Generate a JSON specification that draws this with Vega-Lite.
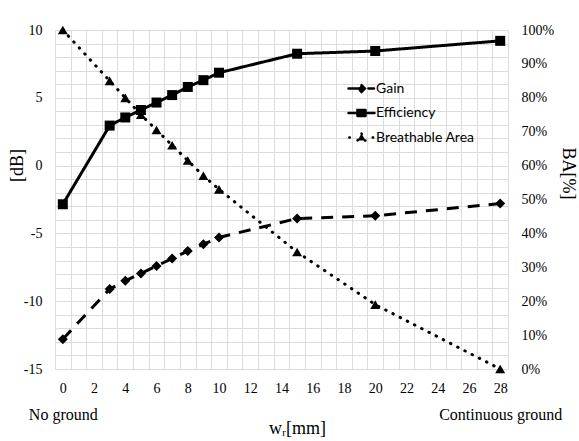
{
  "$schema": "https://vega.github.io/schema/vega-lite/v6.json",
  "width": 453,
  "height": 339,
  "autosize": {"type": "none"},
  "padding": {"left": 55, "top": 30, "right": 71, "bottom": 72},
  "background": "white",
  "config": {"view": {"stroke": null}},
  "data": {"values": [
    {"w": 0, "series": "Gain", "v": -12.8},
    {"w": 3, "series": "Gain", "v": -9.1},
    {"w": 4, "series": "Gain", "v": -8.5},
    {"w": 5, "series": "Gain", "v": -7.95},
    {"w": 6, "series": "Gain", "v": -7.4},
    {"w": 7, "series": "Gain", "v": -6.85},
    {"w": 8, "series": "Gain", "v": -6.3},
    {"w": 9, "series": "Gain", "v": -5.8},
    {"w": 10, "series": "Gain", "v": -5.3},
    {"w": 15, "series": "Gain", "v": -3.9},
    {"w": 20, "series": "Gain", "v": -3.7},
    {"w": 28, "series": "Gain", "v": -2.8},
    {"w": 0, "series": "Efficiency", "v": -2.85},
    {"w": 3, "series": "Efficiency", "v": 2.95},
    {"w": 4, "series": "Efficiency", "v": 3.55},
    {"w": 5, "series": "Efficiency", "v": 4.1},
    {"w": 6, "series": "Efficiency", "v": 4.65},
    {"w": 7, "series": "Efficiency", "v": 5.2},
    {"w": 8, "series": "Efficiency", "v": 5.8},
    {"w": 9, "series": "Efficiency", "v": 6.3},
    {"w": 10, "series": "Efficiency", "v": 6.85},
    {"w": 15, "series": "Efficiency", "v": 8.25},
    {"w": 20, "series": "Efficiency", "v": 8.45},
    {"w": 28, "series": "Efficiency", "v": 9.2},
    {"w": 0, "series": "Breathable Area", "v": 100},
    {"w": 3, "series": "Breathable Area", "v": 85},
    {"w": 4, "series": "Breathable Area", "v": 80},
    {"w": 5, "series": "Breathable Area", "v": 75},
    {"w": 6, "series": "Breathable Area", "v": 70.5},
    {"w": 7, "series": "Breathable Area", "v": 66},
    {"w": 8, "series": "Breathable Area", "v": 61.5},
    {"w": 9, "series": "Breathable Area", "v": 57},
    {"w": 10, "series": "Breathable Area", "v": 53},
    {"w": 15, "series": "Breathable Area", "v": 34.5},
    {"w": 20, "series": "Breathable Area", "v": 19},
    {"w": 28, "series": "Breathable Area", "v": 0}
  ]},
  "layer": [
    {
      "transform": [{"filter": "datum.series !== 'Breathable Area'"}],
      "encoding": {
        "x": {
          "field": "w", "type": "quantitative",
          "scale": {"domain": [-0.5, 28.5], "nice": false, "zero": false},
          "axis": {
            "values": [-0.5, 0.5, 1.5, 2.5, 3.5, 4.5, 5.5, 6.5, 7.5, 8.5, 9.5, 10.5, 11.5, 12.5, 13.5, 14.5, 15.5, 16.5, 17.5, 18.5, 19.5, 20.5, 21.5, 22.5, 23.5, 24.5, 25.5, 26.5, 27.5, 28.5],
            "labelExpr": "(datum.value + 0.5) % 2 === 0 ? '' + (datum.value + 0.5) : ''",
            "labelOffset": 7.81,
            "labelFlush": false,
            "labelOverlap": false,
            "labelBound": false,
            "ticks": false,
            "domain": false,
            "grid": true,
            "gridColor": "#dcdcdc",
            "gridWidth": 1,
            "labelFont": "Liberation Serif",
            "labelFontSize": 14,
            "labelColor": "black",
            "labelPadding": 12,
            "title": null
          }
        },
        "y": {
          "field": "v", "type": "quantitative",
          "scale": {"domain": [-15, 10], "nice": false, "zero": false},
          "axis": {
            "orient": "left",
            "values": [-15, -14, -13, -12, -11, -10, -9, -8, -7, -6, -5, -4, -3, -2, -1, 0, 1, 2, 3, 4, 5, 6, 7, 8, 9, 10],
            "labelExpr": "datum.value % 5 === 0 ? '' + datum.value : ''",
            "labelOverlap": false,
            "labelFlush": false,
            "labelBound": false,
            "grid": true,
            "gridColor": "#dcdcdc",
            "gridWidth": 1,
            "ticks": false,
            "domain": false,
            "labelFont": "Liberation Serif",
            "labelFontSize": 14,
            "labelColor": "black",
            "labelPadding": 13,
            "title": "[dB]",
            "titleFont": "Liberation Serif",
            "titleFontSize": 18,
            "titleFontWeight": "normal",
            "titleColor": "black",
            "titleAngle": 270,
            "titleAlign": "center",
            "titleBaseline": "middle",
            "titleX": -38,
            "titleY": 135
          }
        }
      },
      "layer": [
        {
          "mark": {"type": "line", "color": "black", "strokeWidth": 3, "strokeCap": "butt"},
          "encoding": {
            "strokeDash": {
              "field": "series", "type": "nominal",
              "scale": {"domain": ["Gain", "Efficiency", "Breathable Area"], "range": [[12, 9], [1, 0], [0.5, 7.6]]},
              "legend": {
                "orient": "none", "legendX": 295, "legendY": 47,
                "title": null, "padding": 0, "rowPadding": 4.5,
                "labelOffset": 3, "symbolSize": 400,
                "labelFont": "Lato", "labelFontSize": 14, "labelColor": "black",
                "encoding": {"symbols": {
                  "shape": {"value": {"expr": "datum.value === 'Gain' ? 'M-1.3,0H-0.25M0.7,0H1.25M0,-0.34L0.34,0L0,0.34L-0.34,0Z' : datum.value === 'Efficiency' ? 'M-1.3,0H1.3M-0.4,-0.3H0.4V0.3H-0.4Z' : 'M-1.22,0H-1.12M1.12,0H1.22M0,-0.4L0.4,0.3L-0.4,0.3Z'"}},
                  "fill": {"value": "black"},
                  "stroke": {"value": "black"},
                  "strokeWidth": {"value": 2.5},
                  "strokeDash": {"value": [1, 0]},
                  "strokeCap": {"value": "round"},
                  "opacity": {"value": 1},
                  "fillOpacity": {"value": 1}
                }}
              }
            }
          }
        },
        {
          "transform": [{"filter": "datum.series === 'Gain'"}],
          "mark": {"type": "point", "shape": "diamond", "filled": true, "color": "black", "opacity": 1, "size": 100}
        },
        {
          "transform": [{"filter": "datum.series === 'Efficiency'"}],
          "mark": {"type": "point", "shape": "square", "filled": true, "color": "black", "opacity": 1, "size": 100}
        }
      ]
    },
    {
      "transform": [{"filter": "datum.series === 'Breathable Area'"}],
      "encoding": {
        "x": {
          "field": "w", "type": "quantitative",
          "scale": {"domain": [-0.5, 28.5], "nice": false, "zero": false},
          "axis": {
            "orient": "bottom",
            "values": [-0.5, 27.5],
            "labelExpr": "datum.value === -0.5 ? 'No ground' : 'Continuous ground'",
            "labelOffset": 7.81,
            "labelFlush": false,
            "labelOverlap": false,
            "labelBound": false,
            "ticks": false,
            "domain": false,
            "grid": false,
            "labelFont": "Liberation Serif",
            "labelFontSize": 16,
            "labelColor": "black",
            "labelPadding": 37,
            "title": "wᵣ[mm]",
            "titleFont": "Liberation Serif",
            "titleFontSize": 18,
            "titleFontWeight": "normal",
            "titleColor": "black",
            "titleAlign": "center",
            "titleBaseline": "middle",
            "titleX": 242,
            "titleY": 59
          }
        },
        "y": {
          "field": "v", "type": "quantitative",
          "scale": {"domain": [0, 100], "nice": false, "zero": false},
          "axis": {
            "orient": "right",
            "values": [0, 10, 20, 30, 40, 50, 60, 70, 80, 90, 100],
            "labelExpr": "datum.value + '%'",
            "labelOverlap": false,
            "labelFlush": false,
            "labelBound": false,
            "grid": false,
            "ticks": false,
            "domain": false,
            "labelFont": "Liberation Serif",
            "labelFontSize": 14,
            "labelColor": "black",
            "labelPadding": 13,
            "title": "BA[%]",
            "titleFont": "Liberation Serif",
            "titleFontSize": 18,
            "titleFontWeight": "normal",
            "titleColor": "black",
            "titleAngle": 90,
            "titleAlign": "center",
            "titleBaseline": "middle",
            "titleX": 59,
            "titleY": 143
          }
        }
      },
      "layer": [
        {
          "mark": {"type": "line", "color": "black", "strokeWidth": 3, "strokeCap": "round"},
          "encoding": {
            "strokeDash": {
              "field": "series", "type": "nominal",
              "scale": {"domain": ["Gain", "Efficiency", "Breathable Area"], "range": [[12, 9], [1, 0], [0.5, 7.6]]},
              "legend": {
                "orient": "none", "legendX": 295, "legendY": 47,
                "title": null, "padding": 0, "rowPadding": 4.5,
                "labelOffset": 3, "symbolSize": 400,
                "labelFont": "Lato", "labelFontSize": 14, "labelColor": "black",
                "encoding": {"symbols": {
                  "shape": {"value": {"expr": "datum.value === 'Gain' ? 'M-1.3,0H-0.25M0.7,0H1.25M0,-0.34L0.34,0L0,0.34L-0.34,0Z' : datum.value === 'Efficiency' ? 'M-1.3,0H1.3M-0.4,-0.3H0.4V0.3H-0.4Z' : 'M-1.22,0H-1.12M1.12,0H1.22M0,-0.4L0.4,0.3L-0.4,0.3Z'"}},
                  "fill": {"value": "black"},
                  "stroke": {"value": "black"},
                  "strokeWidth": {"value": 2.5},
                  "strokeDash": {"value": [1, 0]},
                  "strokeCap": {"value": "round"},
                  "opacity": {"value": 1},
                  "fillOpacity": {"value": 1}
                }}
              }
            }
          }
        },
        {
          "mark": {"type": "point", "shape": "triangle-up", "filled": true, "color": "black", "opacity": 1, "size": 100}
        }
      ]
    }
  ],
  "resolve": {"scale": {"y": "independent"}, "axis": {"x": "independent", "y": "independent"}}
}
